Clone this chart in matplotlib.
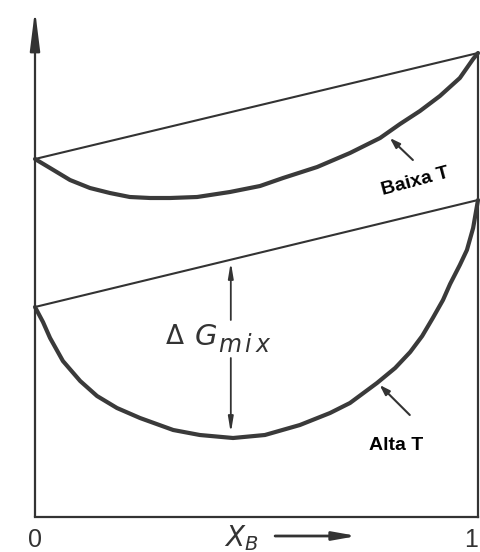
import numpy as np
import matplotlib.pyplot as plt

plt.rcParams["mathtext.fontset"] = "dejavusans"

# composition x_B and Gibbs energy (arbitrary units)
x_low = [0.000, 0.034, 0.079, 0.124, 0.169, 0.214, 0.260, 0.305, 0.366, 0.440,
         0.508, 0.560, 0.637, 0.711, 0.779, 0.824, 0.869, 0.914, 0.959, 0.989, 1.000]
g_low = [3.58, 3.49, 3.37, 3.29, 3.24, 3.20, 3.19, 3.19, 3.20, 3.25,
         3.31, 3.39, 3.50, 3.64, 3.79, 3.93, 4.06, 4.21, 4.39, 4.58, 4.64]

x_high = [0.000, 0.018, 0.034, 0.063, 0.102, 0.140, 0.185, 0.237, 0.312, 0.372,
          0.447, 0.519, 0.598, 0.666, 0.711, 0.772, 0.813, 0.847, 0.874, 0.898,
          0.921, 0.937, 0.959, 0.975, 0.989, 1.000]
g_high = [2.10, 1.95, 1.79, 1.56, 1.36, 1.21, 1.09, 0.99, 0.87, 0.82,
          0.79, 0.82, 0.92, 1.04, 1.14, 1.34, 1.49, 1.65, 1.81, 1.99,
          2.17, 2.33, 2.52, 2.67, 2.89, 3.17]

# end points of the straight (unmixed) lines
x_ends = [0.0, 1.0]
g_line_low = [3.58, 4.64]
g_line_high = [2.10, 3.17]

ink = "#333333"

fig = plt.figure(figsize=(4.8, 5.52), dpi=100)
ax = fig.add_axes([35/480, 35/552, 443/480, 507/552])
ax.set_xlim(0, 1)
ax.set_ylim(0, 5.07)
ax.set_xticks([])
ax.set_yticks([])
for s in ["top", "right", "left"]:
    ax.spines[s].set_visible(False)
ax.spines["bottom"].set_color(ink)
ax.spines["bottom"].set_linewidth(1.6)

# right border and y axis with arrow
ax.plot([1, 1], [0, g_line_low[1]], color=ink, lw=1.6, clip_on=False)
ax.annotate("", xy=(0, 5.07), xytext=(0, 0),
            arrowprops=dict(arrowstyle="-|>,head_length=2.4,head_width=0.3",
                            color=ink, lw=1.6, shrinkA=0, shrinkB=0),
            annotation_clip=False)

# curves and chords
ax.plot(x_ends, g_line_low, color=ink, lw=1.5, clip_on=False)
ax.plot(x_ends, g_line_high, color=ink, lw=1.5, clip_on=False)
ax.plot(x_low, g_low, color="#3a3a3a", lw=3.0, clip_on=False,
        solid_capstyle="round", solid_joinstyle="round")
ax.plot(x_high, g_high, color="#3a3a3a", lw=3.0, clip_on=False,
        solid_capstyle="round", solid_joinstyle="round")

# delta G mix arrows
ax.annotate("", xy=(0.442, 2.55), xytext=(0.442, 1.97),
            arrowprops=dict(arrowstyle="-|>,head_length=0.9,head_width=0.15",
                            color=ink, lw=1.3, shrinkA=0, shrinkB=0))
ax.annotate("", xy=(0.442, 0.84), xytext=(0.442, 1.59),
            arrowprops=dict(arrowstyle="-|>,head_length=0.9,head_width=0.15",
                            color=ink, lw=1.3, shrinkA=0, shrinkB=0))
ax.text(0.316, 1.80, "Δ", fontsize=19, color=ink,
        ha="center", va="center")
ax.text(0.386, 1.80, r"$G$", fontsize=21, color=ink,
        ha="center", va="center")
ax.text(0.474, 1.72, r"$m\,i\,x$", fontsize=17, color=ink,
        ha="center", va="center")

# labels for the two temperatures
ax.annotate("", xy=(0.801, 3.79), xytext=(0.853, 3.57),
            arrowprops=dict(arrowstyle="-|>,head_length=0.6,head_width=0.2",
                            color=ink, lw=1.5, shrinkA=0, shrinkB=0))
ax.text(0.858, 3.35, "Baixa T", fontsize=14, fontweight="bold",
        family="Liberation Sans", rotation=15, ha="center", va="center")
ax.annotate("", xy=(0.778, 1.32), xytext=(0.846, 1.02),
            arrowprops=dict(arrowstyle="-|>,head_length=0.6,head_width=0.2",
                            color=ink, lw=1.5, shrinkA=0, shrinkB=0))
ax.text(0.815, 0.71, "Alta T", fontsize=14, fontweight="bold",
        family="Liberation Sans", ha="center", va="center")

# axis annotations
ax.text(0.0, -0.23, "0", fontsize=18, color=ink, family="Liberation Sans",
        ha="center", va="center", clip_on=False)
ax.text(0.985, -0.23, "1", fontsize=18, color=ink, family="Liberation Sans",
        ha="center", va="center", clip_on=False)
ax.text(0.465, -0.21, r"$X_B$", fontsize=20, color=ink,
        ha="center", va="center", clip_on=False)
ax.annotate("", xy=(0.727, -0.19), xytext=(0.542, -0.19),
            arrowprops=dict(arrowstyle="-|>,head_length=1.4,head_width=0.25",
                            color=ink, lw=2.0, shrinkA=0, shrinkB=0),
            annotation_clip=False)

fig.savefig("out.png", dpi=100)
